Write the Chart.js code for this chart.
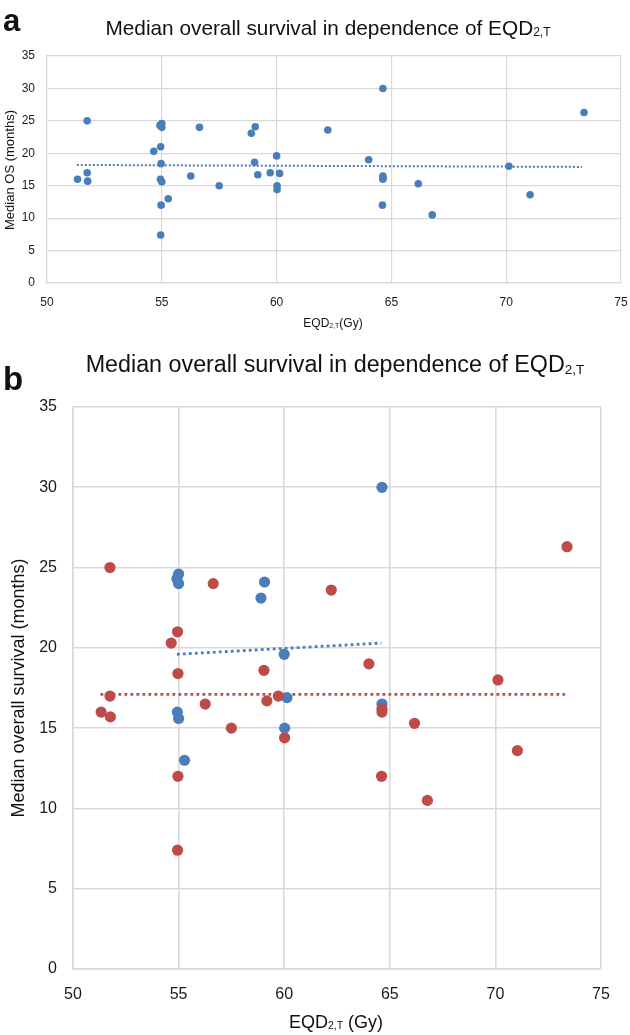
<!DOCTYPE html>
<html>
<head>
<meta charset="utf-8">
<script src="https://cdn.jsdelivr.net/npm/chart.js@4/dist/chart.umd.min.js"></script>
<style>
  body { margin:0; background:#fff; width:630px; height:1035px; position:relative; overflow:hidden;
         font-family:"Liberation Sans", Arial, Helvetica, sans-serif; color:#111; }
  canvas { position:absolute; left:0; }
  .t { position:absolute; white-space:nowrap; transform:translate(-50%,-50%); line-height:1; }
  .sub { font-size:0.58em; position:relative; top:0.12em; }
  .lab { position:absolute; font-weight:bold; line-height:1; }
  .rot { transform:translate(-50%,-50%) rotate(-90deg); }
</style>
</head>
<body>
<canvas id="ca" width="630" height="330" style="top:0"></canvas>
<canvas id="cb" width="630" height="695" style="top:340px"></canvas>

<div class="lab" style="left:3px;top:5px;font-size:31px;">a</div>
<div class="t" style="left:328px;top:28px;font-size:20.8px;">Median overall survival in dependence of EQD<span class="sub">2,T</span></div>
<div class="t rot" style="left:9px;top:170px;font-size:13px;">Median OS (months)</div>
<div class="t" style="left:333px;top:323px;font-size:12px;">EQD<span class="sub">2,T</span>(Gy)</div>

<div class="lab" style="left:3px;top:362px;font-size:33px;">b</div>
<div class="t" style="left:335px;top:365px;font-size:23.3px;">Median overall survival in dependence of EQD<span class="sub">2,T</span></div>
<div class="t rot" style="left:18px;top:688px;font-size:18px;">Median overall survival (months)</div>
<div class="t" style="left:336px;top:1022px;font-size:18px;">EQD<span class="sub">2,T</span> (Gy)</div>

<script>
// Group 1 (blue) points: EQD2,T (Gy) and median OS (months)
const blueX = [55.0, 54.92, 55.0, 59.07, 58.9, 60.0, 60.13, 54.94, 55.0, 55.28, 60.02, 64.63, 64.63];
const blueY = [24.6, 24.3, 24.0, 24.1, 23.1, 19.6, 16.9, 16.0, 15.6, 13.0, 15.0, 30.0, 16.5];
// Group 2 (red) points
const redX = [51.75, 56.64, 62.23, 54.95, 54.65, 54.97, 59.04, 51.75, 59.72, 59.18, 56.26, 51.33, 51.77,
              57.5, 60.02, 54.97, 54.95, 73.39, 64.01, 70.12, 64.63, 64.63, 66.17, 71.04, 64.61, 66.78];
const redY = [25.0, 24.0, 23.6, 21.0, 20.3, 18.4, 18.6, 17.0, 17.0, 16.7, 16.5, 16.0, 15.7,
              15.0, 14.4, 12.0, 7.4, 26.3, 19.0, 18.0, 16.2, 16.0, 15.3, 13.6, 12.0, 10.5];
// Trendline endpoints
const trendAllX = [51.3, 73.3];
const trendAllY = [18.2, 17.9];
const trendBlueX = [54.92, 64.6];
const trendBlueY = [19.6, 20.3];
const trendRedX = [51.3, 73.3];
const trendRedY = [17.1, 17.1];
// Axis ranges / ticks
const xMin = 50, xMax = 75, xStep = 5;
const yMin = 0, yMax = 35, yStep = 5;

const BLUE = '#4a7ebb', RED = '#be4b48', GRID = '#d9d9d9', TXT = '#1a1a1a';
const FAM = '"Liberation Sans", Arial, Helvetica, sans-serif';
const pts = (xs, ys) => xs.map((x, i) => ({ x: x, y: ys[i] }));

function scales(tickSize, gridW, xPad, yPad, xH, yW) {
  return {
    x: { type: 'linear', min: xMin, max: xMax,
         ticks: { stepSize: xStep, padding: xPad, color: TXT, font: { size: tickSize, family: FAM } },
         grid: { color: GRID, lineWidth: gridW, drawTicks: false },
         border: { color: GRID, width: gridW },
         afterFit: s => { s.height = xH; s.paddingLeft = 0; s.paddingRight = 0; } },
    y: { type: 'linear', min: yMin, max: yMax,
         ticks: { stepSize: yStep, padding: yPad, color: TXT, font: { size: tickSize, family: FAM } },
         grid: { color: GRID, lineWidth: gridW, drawTicks: false },
         border: { color: GRID, width: gridW },
         afterFit: s => { s.width = yW; s.paddingTop = 0; s.paddingBottom = 0; } }
  };
}
const basePlugins = { legend: { display: false }, tooltip: { enabled: false } };

new Chart(document.getElementById('ca'), {
  type: 'scatter',
  data: { datasets: [
    { data: pts(blueX.concat(redX), blueY.concat(redY)), backgroundColor: BLUE, borderWidth: 0, pointRadius: 3.8, order: 1 },
    { type: 'line', data: pts(trendAllX, trendAllY), borderColor: BLUE, borderWidth: 2, borderDash: [2, 2],
      pointRadius: 0, fill: false, order: 2 }
  ]},
  options: { responsive: false, animation: false, plugins: basePlugins,
    layout: { padding: { left: 0, right: 9, top: 56, bottom: 0 } },
    scales: scales(12, 1.2, 12, 12, 47, 47) }
});

new Chart(document.getElementById('cb'), {
  type: 'scatter',
  data: { datasets: [
    { data: pts(blueX, blueY), backgroundColor: BLUE, borderWidth: 0, pointRadius: 5.6, order: 2 },
    { data: pts(redX, redY), backgroundColor: RED, borderWidth: 0, pointRadius: 5.6, order: 1 },
    { type: 'line', data: pts(trendBlueX, trendBlueY), borderColor: BLUE, borderWidth: 2.8, borderDash: [2.8, 3.2],
      pointRadius: 0, fill: false, order: 3 },
    { type: 'line', data: pts(trendRedX, trendRedY), borderColor: RED, borderWidth: 2.8, borderDash: [2.8, 3.2],
      pointRadius: 0, fill: false, order: 3 }
  ]},
  options: { responsive: false, animation: false, plugins: basePlugins,
    layout: { padding: { left: 0, right: 29, top: 67, bottom: 0 } },
    scales: scales(16, 1.6, 16, 16, 66, 73) }
});
</script>
</body>
</html>
